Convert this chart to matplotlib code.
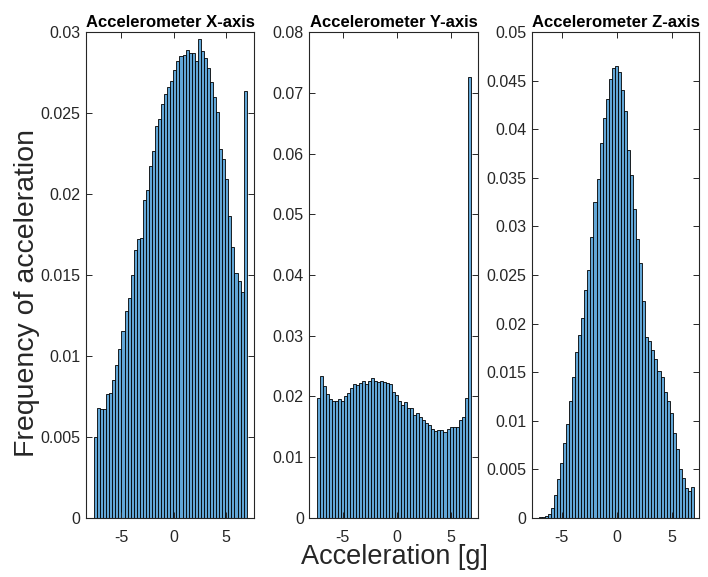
import numpy as np
import matplotlib.pyplot as plt
from matplotlib.ticker import FuncFormatter

plt.rcParams['font.family'] = ['Liberation Sans', 'DejaVu Sans']
plt.rcParams['axes.unicode_minus'] = False

# доли отсчётов по бинам для каждой оси акселерометра
x_freq = [0.0050, 0.0068, 0.0067, 0.00673, 0.00762, 0.00768, 0.00854, 0.00941, 0.01045, 0.01154,
          0.01278, 0.01358, 0.01498, 0.01652, 0.01722, 0.01727, 0.01965, 0.02027, 0.02175, 0.02264,
          0.0242, 0.02467, 0.02558, 0.02617, 0.02665, 0.02698, 0.02768, 0.02821, 0.02856, 0.02862,
          0.02891, 0.02873, 0.0287, 0.02821, 0.0296, 0.02886, 0.02842, 0.02778, 0.02691, 0.02599,
          0.02506, 0.0228, 0.02219, 0.02095, 0.01862, 0.01673, 0.01512, 0.01463, 0.01395, 0.0264]
y_freq = [0.01967, 0.02334, 0.0217, 0.02038, 0.0195, 0.01917, 0.01917, 0.0195, 0.01917, 0.02005,
          0.02049, 0.02131, 0.02203, 0.02181, 0.02214, 0.02257, 0.02203, 0.0226, 0.02307, 0.02257,
          0.02235, 0.02246, 0.0223, 0.02214, 0.02197, 0.02066, 0.02027, 0.01928, 0.01862, 0.01906,
          0.01812, 0.01812, 0.01692, 0.0172, 0.01664, 0.01604, 0.01555, 0.01522, 0.01466, 0.01428,
          0.0144, 0.0144, 0.01412, 0.01456, 0.01489, 0.01489, 0.01489, 0.01604, 0.01654, 0.01967,
          0.0726]
z_freq = [0.0001, 0.0001, 0.0002, 0.0004, 0.001, 0.0023, 0.004, 0.0056, 0.0077, 0.0097,
          0.012, 0.01446, 0.01704, 0.01882, 0.02054, 0.02342, 0.02548, 0.02888, 0.03252, 0.03489,
          0.03863, 0.04117, 0.0431, 0.04516, 0.04629, 0.04653, 0.04591, 0.04406, 0.04193, 0.03788,
          0.03527, 0.03183, 0.02871, 0.0262, 0.02235, 0.01865, 0.0182, 0.01727, 0.01631, 0.01508,
          0.01446, 0.01295, 0.01202, 0.01082, 0.00869, 0.00711, 0.00499, 0.00409, 0.00306, 0.00278,
          0.00319]

# границы гистограмм [g]
x_bins = (-7.61, 6.97)
y_bins = (-7.41, 6.85)
z_bins = (-7.09, 7.03)

titles = ['Accelerometer X-axis', 'Accelerometer Y-axis', 'Accelerometer Z-axis']
x_ticks = [-5, 0, 5]
y_ticks = [np.arange(0, 0.0301, 0.005), np.arange(0, 0.0801, 0.01), np.arange(0, 0.0501, 0.005)]

fig = plt.figure(figsize=(7.08, 5.77), dpi=100)
axes_pos = [[0.1215, 0.1028, 0.2377, 0.8412],
            [0.4369, 0.1028, 0.2387, 0.8412],
            [0.7518, 0.1028, 0.2359, 0.8412]]
xlims = [(-8.37, 7.70), (-8.09, 7.56), (-7.67, 7.51)]
ylims = [0.03, 0.08, 0.05]

gray = '#262626'
for i, (freq, bins) in enumerate([(x_freq, x_bins), (y_freq, y_bins), (z_freq, z_bins)]):
    ax = fig.add_axes(axes_pos[i])
    edges = np.linspace(bins[0], bins[1], len(freq) + 1)
    ax.bar(edges[:-1], freq, width=np.diff(edges), align='edge',
           color='#62A6D6', edgecolor='black', linewidth=0.6)
    ax.set_xlim(xlims[i])
    ax.set_ylim(0, ylims[i])
    ax.set_xticks(x_ticks)
    ax.set_yticks(y_ticks[i])
    ax.yaxis.set_major_formatter(FuncFormatter(lambda v, p: '%g' % round(v, 4)))
    ax.tick_params(direction='in', length=4, width=0.7, color=gray, labelcolor=gray,
                   labelsize=11.5, top=True, right=True, pad=4)
    ax.tick_params(axis='x', pad=9)
    for s in ax.spines.values():
        s.set_color(gray)
        s.set_linewidth(0.8)
    ax.set_title(titles[i], fontsize=12, fontweight='bold', pad=4)

fig.text(0.038, 0.492, 'Frequency of acceleration', rotation=90, ha='center', va='center',
         fontsize=20.5, color=gray)
fig.text(0.557, 0.034, 'Acceleration [g]', ha='center', va='center', fontsize=19.5, color=gray)

plt.savefig('out.png', dpi=100)
